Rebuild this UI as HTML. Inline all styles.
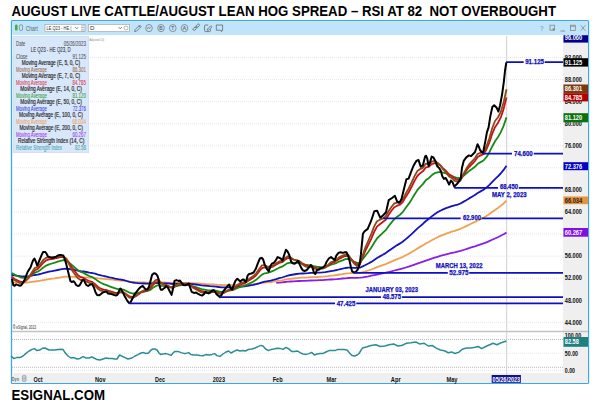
<!DOCTYPE html>
<html><head><meta charset="utf-8"><style>
html,body{margin:0;padding:0;background:#fff;width:600px;height:408px;overflow:hidden;}
svg{display:block;}
</style></head><body>
<svg width="600" height="408" viewBox="0 0 600 408">
<text x="11.5" y="15.8" font-family="Liberation Sans, sans-serif" font-size="14.6" font-weight="bold" fill="#000" text-anchor="start" textLength="544.5" lengthAdjust="spacingAndGlyphs" >AUGUST LIVE CATTLE/AUGUST LEAN HOG SPREAD – RSI AT 82&#160; NOT OVERBOUGHT</text>
<text x="11.5" y="400" font-family="Liberation Sans, sans-serif" font-size="14.4" font-weight="bold" fill="#000" text-anchor="start" textLength="93.5" lengthAdjust="spacingAndGlyphs" >ESIGNAL.COM</text>
<rect x="11.5" y="20.6" width="577" height="362.8" rx="1" fill="#fff" stroke="#3aa8f0" stroke-width="1.3"/>
<rect x="12.2" y="21.3" width="575.6" height="13.7" fill="#c0e5fa"/>
<line x1="12" y1="35.5" x2="588" y2="35.5" stroke="#fff" stroke-dasharray="2,1"/>
<rect x="563" y="36" width="25" height="337" fill="#efefef"/>
<rect x="12" y="373" width="576" height="10" fill="#efefef"/>
<line x1="12" y1="322.3" x2="563" y2="322.3" stroke="#e6e6e6" stroke-width="1" stroke-dasharray="1,1"/>
<line x1="12" y1="300.2" x2="563" y2="300.2" stroke="#e6e6e6" stroke-width="1" stroke-dasharray="1,1"/>
<line x1="12" y1="278.2" x2="563" y2="278.2" stroke="#e6e6e6" stroke-width="1" stroke-dasharray="1,1"/>
<line x1="12" y1="256.1" x2="563" y2="256.1" stroke="#e6e6e6" stroke-width="1" stroke-dasharray="1,1"/>
<line x1="12" y1="234.0" x2="563" y2="234.0" stroke="#e6e6e6" stroke-width="1" stroke-dasharray="1,1"/>
<line x1="12" y1="212.0" x2="563" y2="212.0" stroke="#e6e6e6" stroke-width="1" stroke-dasharray="1,1"/>
<line x1="12" y1="189.9" x2="563" y2="189.9" stroke="#e6e6e6" stroke-width="1" stroke-dasharray="1,1"/>
<line x1="12" y1="167.8" x2="563" y2="167.8" stroke="#e6e6e6" stroke-width="1" stroke-dasharray="1,1"/>
<line x1="12" y1="145.8" x2="563" y2="145.8" stroke="#e6e6e6" stroke-width="1" stroke-dasharray="1,1"/>
<line x1="12" y1="123.7" x2="563" y2="123.7" stroke="#e6e6e6" stroke-width="1" stroke-dasharray="1,1"/>
<line x1="12" y1="101.7" x2="563" y2="101.7" stroke="#e6e6e6" stroke-width="1" stroke-dasharray="1,1"/>
<line x1="12" y1="79.6" x2="563" y2="79.6" stroke="#e6e6e6" stroke-width="1" stroke-dasharray="1,1"/>
<line x1="12" y1="57.5" x2="563" y2="57.5" stroke="#e6e6e6" stroke-width="1" stroke-dasharray="1,1"/>
<line x1="12" y1="331.5" x2="588" y2="331.5" stroke="#c2c2c2" stroke-width="1.3"/>
<line x1="12" y1="335.9" x2="563" y2="335.9" stroke="#ececec" stroke-width="1" stroke-dasharray="1,1"/>
<line x1="12" y1="339.5" x2="563" y2="339.5" stroke="#b8b8b8" stroke-width="1" stroke-dasharray="1,1"/>
<line x1="12" y1="353.3" x2="563" y2="353.3" stroke="#e8e8e8" stroke-width="1" stroke-dasharray="1,1"/>
<line x1="12" y1="367.3" x2="563" y2="367.3" stroke="#b8b8b8" stroke-width="1" stroke-dasharray="1,1"/>
<line x1="12" y1="370.3" x2="563" y2="370.3" stroke="#e4e4e4" stroke-width="1" stroke-dasharray="1,1"/>
<line x1="506.7" y1="36" x2="506.7" y2="375" stroke="#cfcfcf" stroke-width="1"/>
<path d="M276.3,282.8 L279.2,282.6 L282.1,282.3 L285.0,282.0 L287.8,281.7 L290.7,281.5 L293.6,281.3 L296.5,281.1 L299.4,281.0 L302.2,280.9 L305.1,280.8 L308.0,280.6 L310.9,280.5 L313.7,280.4 L316.6,280.3 L319.5,280.2 L322.4,280.1 L325.3,279.9 L328.1,279.7 L331.0,279.5 L333.9,279.3 L336.8,279.1 L339.6,278.8 L342.5,278.5 L345.4,278.3 L348.3,278.0 L351.1,277.9 L354.0,277.9 L356.9,277.8 L359.8,277.7 L362.7,277.3 L365.5,276.8 L368.4,276.3 L371.3,275.7 L374.2,275.1 L377.0,274.5 L379.9,273.9 L382.8,273.3 L385.7,272.7 L388.5,272.0 L391.4,271.3 L394.3,270.5 L397.2,269.8 L400.1,269.1 L402.9,268.4 L405.8,267.5 L408.7,266.6 L411.6,265.7 L414.4,264.7 L417.3,263.6 L420.2,262.7 L423.1,261.7 L425.9,260.6 L428.8,259.7 L431.7,258.7 L434.6,257.7 L437.5,256.8 L440.3,255.9 L443.2,255.1 L446.1,254.4 L449.0,253.7 L451.8,252.9 L454.7,252.3 L457.6,251.6 L460.5,250.9 L463.3,250.0 L466.2,249.1 L469.1,248.1 L472.0,247.2 L474.9,246.3 L477.7,245.3 L480.6,244.3 L483.5,243.4 L486.4,242.3 L489.2,241.1 L492.1,239.8 L495.0,238.5 L497.9,237.2 L500.7,235.8 L503.6,234.3 L506.5,232.6" fill="none" stroke="#8a1ee6" stroke-width="1.8" stroke-linejoin="round"/>
<path d="M11.7,282.5 L14.5,282.6 L17.4,282.6 L20.3,282.7 L23.2,282.7 L26.0,282.5 L28.9,282.3 L31.8,281.9 L34.7,281.5 L37.6,281.1 L40.4,280.7 L43.3,280.1 L46.2,279.6 L49.1,279.1 L51.9,278.7 L54.8,278.3 L57.7,277.8 L60.6,277.4 L63.4,276.9 L66.3,276.7 L69.2,276.7 L72.1,276.8 L75.0,276.9 L77.8,277.1 L80.7,277.2 L83.6,277.3 L86.5,277.4 L89.3,277.6 L92.2,277.7 L95.1,278.0 L98.0,278.3 L100.8,278.6 L103.7,278.9 L106.6,279.1 L109.5,279.4 L112.4,279.7 L115.2,280.0 L118.1,280.3 L121.0,280.5 L123.9,280.8 L126.7,281.1 L129.6,281.6 L132.5,281.9 L135.4,282.1 L138.2,282.3 L141.1,282.4 L144.0,282.5 L146.9,282.6 L149.8,282.6 L152.6,282.5 L155.5,282.3 L158.4,282.2 L161.3,282.4 L164.1,282.5 L167.0,282.6 L169.9,282.7 L172.8,282.9 L175.6,282.8 L178.5,282.8 L181.4,282.8 L184.3,282.8 L187.2,282.9 L190.0,283.0 L192.9,283.1 L195.8,283.3 L198.7,283.5 L201.5,283.8 L204.4,284.0 L207.3,284.1 L210.2,284.3 L213.0,284.4 L215.9,284.6 L218.8,284.8 L221.7,285.0 L224.6,285.1 L227.4,285.1 L230.3,285.2 L233.2,285.2 L236.1,285.1 L238.9,285.0 L241.8,284.9 L244.7,284.8 L247.6,284.7 L250.4,284.4 L253.3,284.2 L256.2,283.9 L259.1,283.4 L262.0,282.9 L264.8,282.6 L267.7,282.3 L270.6,282.0 L273.5,281.6 L276.3,281.2 L279.2,280.7 L282.1,280.3 L285.0,279.7 L287.8,279.2 L290.7,278.8 L293.6,278.5 L296.5,278.2 L299.4,277.9 L302.2,277.7 L305.1,277.6 L308.0,277.4 L310.9,277.2 L313.7,277.1 L316.6,277.0 L319.5,276.8 L322.4,276.6 L325.3,276.4 L328.1,276.1 L331.0,275.7 L333.9,275.4 L336.8,275.0 L339.6,274.5 L342.5,274.1 L345.4,273.6 L348.3,273.3 L351.1,273.2 L354.0,273.2 L356.9,273.1 L359.8,272.9 L362.7,272.2 L365.5,271.4 L368.4,270.5 L371.3,269.5 L374.2,268.4 L377.0,267.2 L379.9,266.2 L382.8,265.2 L385.7,264.2 L388.5,262.9 L391.4,261.6 L394.3,260.4 L397.2,259.2 L400.1,258.0 L402.9,256.8 L405.8,255.3 L408.7,253.7 L411.6,252.1 L414.4,250.4 L417.3,248.6 L420.2,246.9 L423.1,245.3 L425.9,243.5 L428.8,242.0 L431.7,240.3 L434.6,238.7 L437.5,237.3 L440.3,235.9 L443.2,234.8 L446.1,233.7 L449.0,232.7 L451.8,231.7 L454.7,230.8 L457.6,229.8 L460.5,228.8 L463.3,227.5 L466.2,226.1 L469.1,224.7 L472.0,223.3 L474.9,221.9 L477.7,220.4 L480.6,219.0 L483.5,217.7 L486.4,216.0 L489.2,214.2 L492.1,212.1 L495.0,210.0 L497.9,208.0 L500.7,205.9 L503.6,203.5 L506.5,200.7" fill="none" stroke="#f0a04e" stroke-width="1.8" stroke-linejoin="round"/>
<path d="M11.7,275.0 L14.5,275.4 L17.4,275.8 L20.3,276.2 L23.2,276.4 L26.0,276.4 L28.9,276.2 L31.8,275.7 L34.7,275.0 L37.6,274.6 L40.4,274.0 L43.3,273.1 L46.2,272.3 L49.1,271.7 L51.9,271.2 L54.8,270.6 L57.7,270.0 L60.6,269.4 L63.4,268.9 L66.3,268.7 L69.2,269.0 L72.1,269.5 L75.0,270.0 L77.8,270.7 L80.7,271.2 L83.6,271.5 L86.5,272.0 L89.3,272.6 L92.2,273.0 L95.1,273.7 L98.0,274.6 L100.8,275.3 L103.7,276.0 L106.6,276.6 L109.5,277.3 L112.4,277.9 L115.2,278.6 L118.1,279.2 L121.0,279.6 L123.9,280.2 L126.7,281.0 L129.6,281.8 L132.5,282.5 L135.4,282.9 L138.2,283.2 L141.1,283.3 L144.0,283.5 L146.9,283.7 L149.8,283.7 L152.6,283.3 L155.5,283.0 L158.4,282.8 L161.3,283.1 L164.1,283.3 L167.0,283.4 L169.9,283.7 L172.8,284.0 L175.6,283.8 L178.5,283.7 L181.4,283.7 L184.3,283.7 L187.2,283.7 L190.0,283.9 L192.9,284.2 L195.8,284.5 L198.7,284.9 L201.5,285.3 L204.4,285.6 L207.3,285.9 L210.2,286.2 L213.0,286.3 L215.9,286.6 L218.8,287.0 L221.7,287.3 L224.6,287.4 L227.4,287.3 L230.3,287.3 L233.2,287.3 L236.1,287.0 L238.9,286.8 L241.8,286.5 L244.7,286.3 L247.6,285.9 L250.4,285.4 L253.3,284.9 L256.2,284.2 L259.1,283.3 L262.0,282.3 L264.8,281.6 L267.7,281.2 L270.6,280.6 L273.5,279.9 L276.3,279.1 L279.2,278.2 L282.1,277.5 L285.0,276.5 L287.8,275.6 L290.7,275.0 L293.6,274.5 L296.5,274.0 L299.4,273.6 L302.2,273.5 L305.1,273.4 L308.0,273.2 L310.9,272.9 L313.7,272.8 L316.6,272.7 L319.5,272.6 L322.4,272.4 L325.3,272.1 L328.1,271.6 L331.0,271.1 L333.9,270.6 L336.8,270.0 L339.6,269.3 L342.5,268.7 L345.4,268.0 L348.3,267.6 L351.1,267.6 L354.0,267.8 L356.9,267.9 L359.8,267.7 L362.7,266.4 L365.5,265.0 L368.4,263.5 L371.3,261.9 L374.2,259.9 L377.0,258.0 L379.9,256.4 L382.8,254.8 L385.7,253.1 L388.5,251.1 L391.4,249.0 L394.3,246.9 L397.2,245.1 L400.1,243.4 L402.9,241.5 L405.8,239.1 L408.7,236.7 L411.6,234.1 L414.4,231.4 L417.3,228.6 L420.2,226.1 L423.1,223.7 L425.9,221.0 L428.8,218.9 L431.7,216.4 L434.6,214.2 L437.5,212.3 L440.3,210.7 L443.2,209.4 L446.1,208.2 L449.0,207.2 L451.8,206.2 L454.7,205.4 L457.6,204.6 L460.5,203.5 L463.3,201.9 L466.2,200.2 L469.1,198.4 L472.0,196.7 L474.9,195.0 L477.7,193.0 L480.6,191.4 L483.5,189.8 L486.4,187.6 L489.2,185.1 L492.1,182.1 L495.0,179.1 L497.9,176.4 L500.7,173.5 L503.6,169.9 L506.5,165.7" fill="none" stroke="#1414bc" stroke-width="1.8" stroke-linejoin="round"/>
<path d="M11.7,272.9 L14.5,274.6 L17.4,276.0 L20.3,277.3 L23.2,277.9 L26.0,277.7 L28.9,276.7 L31.8,274.9 L34.7,272.8 L37.6,271.7 L40.4,269.9 L43.3,267.5 L46.2,265.6 L49.1,264.4 L51.9,263.5 L54.8,262.7 L57.7,261.7 L60.6,260.8 L63.4,260.2 L66.3,260.8 L69.2,262.8 L72.1,265.3 L75.0,267.7 L77.8,270.1 L80.7,271.9 L83.6,272.9 L86.5,274.6 L89.3,276.0 L92.2,277.1 L95.1,278.9 L98.0,281.1 L100.8,282.8 L103.7,284.1 L106.6,285.1 L109.5,286.3 L112.4,287.3 L115.2,288.4 L118.1,289.1 L121.0,289.1 L123.9,289.8 L126.7,291.2 L129.6,292.7 L132.5,293.5 L135.4,293.5 L138.2,292.9 L141.1,292.1 L144.0,291.5 L146.9,291.2 L149.8,290.2 L152.6,288.1 L155.5,286.2 L158.4,285.2 L161.3,285.8 L164.1,286.1 L167.0,286.2 L169.9,286.9 L172.8,287.3 L175.6,286.4 L178.5,285.6 L181.4,285.2 L184.3,285.2 L187.2,285.1 L190.0,285.4 L192.9,286.3 L195.8,287.2 L198.7,288.1 L201.5,289.1 L204.4,289.6 L207.3,290.1 L210.2,290.4 L213.0,290.4 L215.9,290.7 L218.8,291.4 L221.7,291.9 L224.6,291.6 L227.4,290.9 L230.3,290.4 L233.2,289.9 L236.1,288.6 L238.9,287.5 L241.8,286.5 L244.7,285.7 L247.6,284.4 L250.4,283.0 L253.3,281.6 L256.2,279.8 L259.1,277.2 L262.0,274.6 L264.8,273.3 L267.7,272.9 L270.6,271.9 L273.5,270.7 L276.3,269.2 L279.2,267.7 L282.1,266.7 L285.0,264.8 L287.8,263.1 L290.7,262.7 L293.6,262.8 L296.5,262.7 L299.4,262.9 L302.2,263.8 L305.1,264.7 L308.0,265.2 L310.9,265.2 L313.7,266.1 L316.6,266.7 L319.5,267.0 L322.4,267.1 L325.3,266.8 L328.1,265.9 L331.0,264.7 L333.9,264.0 L336.8,262.8 L339.6,261.4 L342.5,260.3 L345.4,259.2 L348.3,258.8 L351.1,260.0 L354.0,261.7 L356.9,262.8 L359.8,262.8 L362.7,259.3 L365.5,255.5 L368.4,251.7 L371.3,247.5 L374.2,242.7 L377.0,238.5 L379.9,235.6 L382.8,232.9 L385.7,230.2 L388.5,226.3 L391.4,222.6 L394.3,219.1 L397.2,216.7 L400.1,214.7 L402.9,211.8 L405.8,207.8 L408.7,203.9 L411.6,199.4 L414.4,194.7 L417.3,190.2 L420.2,186.8 L423.1,183.9 L425.9,180.1 L428.8,178.2 L431.7,175.3 L434.6,173.2 L437.5,172.3 L440.3,172.0 L443.2,172.7 L446.1,173.5 L449.0,175.0 L451.8,175.8 L454.7,177.2 L457.6,178.0 L460.5,178.1 L463.3,176.0 L466.2,173.5 L469.1,171.1 L472.0,169.0 L474.9,166.8 L477.7,163.8 L480.6,162.1 L483.5,160.5 L486.4,157.2 L489.2,152.7 L492.1,146.7 L495.0,141.3 L497.9,137.2 L500.7,132.4 L503.6,125.9 L506.5,117.4" fill="none" stroke="#168c16" stroke-width="1.8" stroke-linejoin="round"/>
<path d="M11.7,276.7 L14.5,279.0 L17.4,280.4 L20.3,281.7 L23.2,281.9 L26.0,280.4 L28.9,277.8 L31.8,274.3 L34.7,270.5 L37.6,269.0 L40.4,266.2 L43.3,262.7 L46.2,260.3 L49.1,259.4 L51.9,259.0 L54.8,258.5 L57.7,257.8 L60.6,257.1 L63.4,256.8 L66.3,258.7 L69.2,263.1 L72.1,267.8 L75.0,271.5 L77.8,275.1 L80.7,277.2 L83.6,277.9 L86.5,279.7 L89.3,281.0 L92.2,281.9 L95.1,284.1 L98.0,286.9 L100.8,288.7 L103.7,289.6 L106.6,290.1 L109.5,291.0 L112.4,291.9 L115.2,292.8 L118.1,292.9 L121.0,292.0 L123.9,292.6 L126.7,294.4 L129.6,296.5 L132.5,297.0 L135.4,296.1 L138.2,294.5 L141.1,292.5 L144.0,291.3 L146.9,290.8 L149.8,289.0 L152.6,285.4 L155.5,282.5 L158.4,281.5 L161.3,283.6 L164.1,284.7 L167.0,285.3 L169.9,286.8 L172.8,287.5 L175.6,285.8 L178.5,284.5 L181.4,284.1 L184.3,284.3 L187.2,284.4 L190.0,285.1 L192.9,286.9 L195.8,288.3 L198.7,289.8 L201.5,291.2 L204.4,291.7 L207.3,292.1 L210.2,292.1 L213.0,291.7 L215.9,292.0 L218.8,293.0 L221.7,293.4 L224.6,292.5 L227.4,290.9 L230.3,290.1 L233.2,289.2 L236.1,286.9 L238.9,285.3 L241.8,284.0 L244.7,283.2 L247.6,281.3 L250.4,279.4 L253.3,277.7 L256.2,275.2 L259.1,271.5 L262.0,268.2 L264.8,267.3 L267.7,268.0 L270.6,267.5 L273.5,266.3 L276.3,264.6 L279.2,262.9 L282.1,262.2 L285.0,259.8 L287.8,257.9 L290.7,258.4 L293.6,259.7 L296.5,260.3 L299.4,261.2 L302.2,263.3 L305.1,265.1 L308.0,266.0 L310.9,265.8 L313.7,267.3 L316.6,268.2 L319.5,268.4 L322.4,268.2 L325.3,267.4 L328.1,265.5 L331.0,263.4 L333.9,262.4 L336.8,260.6 L339.6,258.6 L342.5,257.1 L345.4,255.9 L348.3,256.0 L351.1,258.9 L354.0,262.3 L356.9,264.4 L359.8,264.0 L362.7,257.1 L365.5,250.5 L368.4,244.7 L371.3,238.6 L374.2,231.8 L377.0,226.6 L379.9,224.2 L382.8,222.0 L385.7,219.7 L388.5,215.0 L391.4,210.8 L394.3,207.2 L397.2,205.7 L400.1,204.7 L402.9,201.8 L405.8,196.8 L408.7,192.2 L411.6,186.8 L414.4,181.1 L417.3,176.0 L420.2,173.2 L423.1,171.1 L425.9,167.3 L428.8,166.8 L431.7,164.2 L434.6,163.1 L437.5,163.9 L440.3,165.4 L443.2,168.5 L446.1,171.0 L449.0,174.3 L451.8,176.1 L454.7,178.7 L457.6,179.8 L460.5,179.5 L463.3,175.2 L466.2,170.8 L469.1,167.0 L472.0,164.0 L474.9,161.1 L477.7,157.0 L480.6,155.4 L483.5,154.2 L486.4,149.5 L489.2,142.9 L492.1,134.2 L495.0,127.2 L497.9,123.0 L500.7,117.7 L503.6,109.1 L506.5,97.4" fill="none" stroke="#c81414" stroke-width="1.8" stroke-linejoin="round"/>
<path d="M11.7,277.6 L14.5,280.3 L17.4,281.8 L20.3,283.1 L23.2,282.8 L26.0,280.6 L28.9,277.0 L31.8,272.6 L34.7,268.1 L37.6,266.9 L40.4,263.9 L43.3,259.9 L46.2,257.7 L49.1,257.4 L51.9,257.5 L54.8,257.4 L57.7,256.7 L60.6,256.2 L63.4,256.2 L66.3,258.9 L69.2,264.6 L72.1,270.4 L75.0,274.5 L77.8,278.3 L80.7,280.0 L83.6,280.0 L86.5,281.7 L89.3,282.8 L92.2,283.3 L95.1,285.9 L98.0,289.0 L100.8,290.7 L103.7,291.2 L106.6,291.4 L109.5,292.2 L112.4,292.9 L115.2,293.7 L118.1,293.5 L121.0,292.1 L123.9,292.9 L126.7,295.2 L129.6,297.7 L132.5,298.0 L135.4,296.5 L138.2,294.2 L141.1,291.7 L144.0,290.3 L146.9,290.0 L149.8,287.9 L152.6,283.4 L155.5,280.2 L158.4,279.7 L161.3,283.0 L164.1,284.8 L167.0,285.5 L169.9,287.5 L172.8,288.2 L175.6,285.6 L178.5,284.0 L181.4,283.6 L184.3,284.1 L187.2,284.2 L190.0,285.2 L192.9,287.6 L195.8,289.3 L198.7,290.9 L201.5,292.4 L204.4,292.7 L207.3,292.8 L210.2,292.7 L213.0,291.9 L215.9,292.2 L218.8,293.5 L221.7,293.9 L224.6,292.5 L227.4,290.4 L230.3,289.4 L233.2,288.5 L236.1,285.7 L238.9,283.9 L241.8,282.6 L244.7,282.0 L247.6,279.9 L250.4,277.9 L253.3,276.1 L256.2,273.3 L259.1,269.0 L262.0,265.4 L264.8,265.2 L267.7,266.8 L270.6,266.5 L273.5,265.3 L276.3,263.3 L279.2,261.5 L282.1,261.0 L285.0,258.2 L287.8,256.2 L290.7,257.5 L293.6,259.5 L296.5,260.4 L299.4,261.5 L302.2,264.2 L305.1,266.4 L308.0,267.1 L310.9,266.5 L313.7,268.3 L316.6,269.1 L319.5,269.1 L322.4,268.6 L325.3,267.4 L328.1,264.8 L331.0,262.2 L333.9,261.3 L336.8,259.3 L339.6,257.0 L342.5,255.6 L345.4,254.5 L348.3,255.0 L351.1,259.3 L354.0,263.6 L356.9,266.0 L359.8,264.9 L362.7,255.4 L365.5,247.1 L368.4,240.5 L371.3,233.8 L374.2,226.4 L377.0,221.2 L379.9,219.8 L382.8,218.4 L385.7,216.5 L388.5,211.3 L391.4,207.0 L394.3,203.4 L397.2,202.7 L400.1,202.3 L402.9,199.3 L405.8,193.4 L408.7,188.4 L411.6,182.5 L414.4,176.4 L417.3,171.1 L420.2,169.1 L423.1,167.6 L425.9,163.6 L428.8,164.2 L431.7,161.7 L434.6,160.9 L437.5,162.7 L440.3,165.2 L443.2,169.4 L446.1,172.5 L449.0,176.4 L451.8,178.1 L454.7,180.8 L457.6,181.6 L460.5,180.6 L463.3,174.5 L466.2,168.8 L469.1,164.4 L472.0,161.3 L474.9,158.3 L477.7,153.8 L480.6,152.8 L483.5,152.0 L486.4,146.5 L489.2,138.7 L492.1,128.5 L495.0,121.0 L497.9,117.5 L500.7,112.2 L503.6,102.6 L506.5,89.2" fill="none" stroke="#8b4a1c" stroke-width="1.8" stroke-linejoin="round"/>
<path d="M12.0,278.9 L12.6,282.3 L13.4,285.3 L14.7,285.7 L16.0,284.4 L17.3,284.9 L18.6,285.3 L19.9,285.7 L21.1,285.3 L22.4,283.6 L23.7,281.4 L25.0,278.9 L26.3,275.4 L27.6,272.0 L28.9,269.9 L30.6,267.3 L31.9,263.4 L33.1,260.4 L34.4,258.5 L35.8,261.5 L37.1,265.4 L38.3,263.2 L40.0,258.9 L41.8,254.6 L43.1,252.0 L45.2,252.0 L46.4,253.4 L47.8,256.3 L49.8,257.2 L52.1,257.7 L54.3,257.2 L56.0,256.8 L57.7,255.5 L59.8,255.1 L61.5,255.1 L63.2,255.5 L64.6,258.9 L65.8,262.3 L67.5,269.2 L69.2,276.0 L70.4,280.9 L71.8,282.1 L73.5,281.2 L74.9,282.6 L76.1,285.0 L77.8,286.0 L79.5,285.5 L81.2,282.6 L82.4,280.3 L83.8,279.8 L85.2,282.9 L86.4,285.0 L88.1,286.0 L90.2,284.6 L92.1,284.1 L93.9,287.5 L95.4,291.9 L97.1,294.9 L99.0,295.3 L100.9,294.1 L102.7,292.6 L104.9,291.9 L106.4,291.5 L107.9,293.4 L109.8,293.8 L111.5,294.1 L113.7,294.9 L115.9,295.6 L117.4,294.9 L118.9,291.2 L120.4,288.5 L121.8,290.4 L123.3,293.4 L125.1,297.1 L127.0,300.3 L128.9,302.9 L130.6,302.2 L132.1,299.3 L134.3,294.9 L136.5,291.9 L138.7,289.0 L140.9,286.8 L142.7,286.0 L144.6,288.2 L146.1,289.7 L147.6,289.0 L149.0,286.8 L150.5,280.9 L152.0,275.0 L153.9,273.2 L155.9,273.8 L157.4,275.7 L158.6,279.4 L159.8,286.8 L160.8,289.7 L162.3,289.7 L163.7,288.5 L165.2,287.5 L166.0,286.0 L167.8,287.5 L169.7,291.2 L171.6,294.9 L173.1,288.2 L174.5,280.9 L176.3,280.1 L178.5,280.9 L180.0,280.6 L181.4,282.6 L183.4,285.0 L185.1,285.3 L186.9,284.6 L188.8,283.5 L190.3,288.0 L191.7,291.9 L193.9,292.9 L196.1,292.6 L198.1,293.8 L200.1,294.9 L202.0,295.6 L203.9,294.1 L205.4,291.9 L206.9,292.9 L208.6,293.4 L210.1,292.4 L211.6,291.2 L213.4,290.0 L215.3,291.9 L216.7,294.4 L218.6,295.9 L220.1,297.1 L221.6,294.9 L223.4,291.2 L225.6,288.5 L227.5,286.0 L229.2,284.6 L230.7,288.5 L232.2,289.7 L233.6,285.3 L235.4,280.9 L237.3,278.7 L238.8,280.1 L240.3,281.6 L241.7,280.1 L243.2,279.4 L244.0,279.9 L245.8,282.1 L247.7,275.4 L249.1,274.0 L251.4,273.5 L253.6,272.5 L255.8,268.8 L258.0,262.9 L259.9,258.5 L261.6,257.8 L263.1,259.3 L264.6,264.4 L266.8,268.8 L268.7,271.5 L270.5,265.9 L271.9,263.7 L274.1,262.6 L275.6,260.7 L277.5,257.1 L279.3,257.8 L280.8,258.5 L282.5,260.7 L284.0,255.6 L285.9,249.7 L287.4,251.2 L288.9,254.1 L289.9,257.1 L291.1,261.5 L292.5,263.2 L294.7,263.7 L296.6,262.2 L298.1,260.7 L299.6,264.4 L301.4,268.1 L302.8,270.3 L304.6,271.0 L306.5,270.3 L308.4,268.1 L310.9,265.1 L312.4,267.4 L313.9,272.5 L315.3,274.0 L316.8,270.3 L319.0,269.6 L320.0,268.4 L322.9,267.6 L325.1,265.4 L326.6,261.8 L328.8,258.5 L331.0,257.1 L333.2,258.8 L334.7,260.3 L336.2,255.9 L338.4,252.9 L340.6,252.2 L342.8,252.9 L345.0,252.2 L346.5,252.2 L348.2,255.9 L349.4,260.3 L350.9,266.9 L352.1,271.3 L353.8,272.4 L355.6,272.1 L357.5,269.9 L359.0,266.2 L360.0,261.8 L360.9,254.4 L361.9,244.1 L362.9,233.8 L364.4,231.5 L367.7,228.9 L371.0,221.2 L374.3,211.2 L377.2,210.8 L380.3,217.8 L383.2,215.2 L386.0,212.3 L388.7,200.2 L392.0,198.0 L394.9,195.8 L397.1,201.3 L399.3,202.8 L401.5,199.1 L404.2,188.0 L406.4,179.2 L408.6,178.6 L410.8,172.6 L413.4,166.0 L416.3,160.9 L418.5,160.0 L420.7,166.6 L422.9,165.3 L425.1,156.5 L426.0,155.7 L427.2,158.3 L428.6,166.0 L429.9,162.6 L431.7,156.6 L433.4,157.4 L435.4,160.9 L437.1,166.0 L439.2,168.1 L440.9,171.1 L442.3,176.3 L444.0,178.9 L445.7,178.0 L447.4,181.1 L449.1,184.5 L450.9,180.6 L452.6,182.3 L454.3,186.6 L456.9,184.0 L459.1,181.4 L460.8,178.0 L462.0,167.7 L463.7,160.9 L466.3,157.4 L468.9,155.4 L471.1,156.1 L473.1,154.0 L474.9,152.3 L476.2,148.5 L477.5,144.3 L478.7,146.3 L480.0,150.0 L482.0,152.3 L483.0,153.0 L484.0,148.0 L485.4,140.9 L486.9,132.3 L488.6,127.4 L490.3,116.4 L492.3,107.1 L494.2,105.3 L496.7,107.8 L498.4,111.5 L500.1,105.3 L502.1,94.3 L503.8,82.1 L505.0,71.0 L506.3,62.4" fill="none" stroke="#000" stroke-width="2" stroke-linejoin="round"/>
<path d="M506,62.2 H523.7 M544.7,62.2 H563" stroke="#1010c0" stroke-width="1.7" fill="none"/>
<text x="525.2" y="64.1" font-family="Liberation Sans, sans-serif" font-size="6.7" font-weight="bold" fill="#1010c0" text-anchor="start" textLength="18.8" lengthAdjust="spacingAndGlyphs" stroke="#1010c0" stroke-width="0.25">91.125</text>
<path d="M482.7,153.6 H512.0 M533.7,153.6 H563" stroke="#1010c0" stroke-width="1.7" fill="none"/>
<text x="514.0" y="155.5" font-family="Liberation Sans, sans-serif" font-size="6.7" font-weight="bold" fill="#1010c0" text-anchor="start" textLength="18.7" lengthAdjust="spacingAndGlyphs" stroke="#1010c0" stroke-width="0.25">74.600</text>
<path d="M454.3,187.9 H498.0 M518.8,187.9 H563" stroke="#1010c0" stroke-width="1.7" fill="none"/>
<text x="499.9" y="189.3" font-family="Liberation Sans, sans-serif" font-size="6.7" font-weight="bold" fill="#1010c0" text-anchor="start" textLength="18.1" lengthAdjust="spacingAndGlyphs" stroke="#1010c0" stroke-width="0.25">68.450</text>
<path d="M383.2,218.3 H460.7 M481.7,218.3 H563" stroke="#1010c0" stroke-width="1.7" fill="none"/>
<text x="462.9" y="220.1" font-family="Liberation Sans, sans-serif" font-size="6.7" font-weight="bold" fill="#1010c0" text-anchor="start" textLength="18.1" lengthAdjust="spacingAndGlyphs" stroke="#1010c0" stroke-width="0.25">62.900</text>
<path d="M353.8,272.8 H447.8 M469.2,272.8 H563" stroke="#1010c0" stroke-width="1.7" fill="none"/>
<text x="449.2" y="274.5" font-family="Liberation Sans, sans-serif" font-size="6.7" font-weight="bold" fill="#1010c0" text-anchor="start" textLength="19.3" lengthAdjust="spacingAndGlyphs" stroke="#1010c0" stroke-width="0.25">52.975</text>
<path d="M220.1,297.2 H381.0 M402.0,297.2 H563" stroke="#1010c0" stroke-width="1.7" fill="none"/>
<text x="382.8" y="298.9" font-family="Liberation Sans, sans-serif" font-size="6.7" font-weight="bold" fill="#1010c0" text-anchor="start" textLength="18.2" lengthAdjust="spacingAndGlyphs" stroke="#1010c0" stroke-width="0.25">48.575</text>
<path d="M129.0,303.4 H335.0 M356.3,303.4 H563" stroke="#1010c0" stroke-width="1.7" fill="none"/>
<text x="336.7" y="305.5" font-family="Liberation Sans, sans-serif" font-size="6.7" font-weight="bold" fill="#1010c0" text-anchor="start" textLength="18.6" lengthAdjust="spacingAndGlyphs" stroke="#1010c0" stroke-width="0.25">47.425</text>
<text x="492.0" y="196.7" font-family="Liberation Sans, sans-serif" font-size="6.7" font-weight="bold" fill="#1010c0" text-anchor="start" textLength="34.7" lengthAdjust="spacingAndGlyphs" stroke="#1010c0" stroke-width="0.25">MAY 2, 2023</text>
<text x="435.8" y="268.3" font-family="Liberation Sans, sans-serif" font-size="6.7" font-weight="bold" fill="#1010c0" text-anchor="start" textLength="46.7" lengthAdjust="spacingAndGlyphs" stroke="#1010c0" stroke-width="0.25">MARCH 13, 2022</text>
<text x="365.5" y="292.2" font-family="Liberation Sans, sans-serif" font-size="6.7" font-weight="bold" fill="#1010c0" text-anchor="start" textLength="52.5" lengthAdjust="spacingAndGlyphs" stroke="#1010c0" stroke-width="0.25">JANUARY 03, 2023</text>
<path d="M11.0,356.0 L14.0,358.6 L17.0,357.4 L20.0,357.6 L23.0,356.0 L26.0,353.4 L29.0,351.0 L32.0,349.4 L34.4,348.6 L37.0,350.6 L40.0,350.0 L42.6,348.2 L45.0,348.0 L47.0,349.0 L49.0,350.0 L52.0,350.0 L55.0,350.0 L58.0,349.4 L61.0,349.2 L63.0,349.4 L65.0,352.6 L68.0,356.0 L71.0,358.0 L74.0,357.6 L77.0,359.0 L80.0,358.4 L83.0,356.6 L86.0,358.0 L89.0,358.0 L91.6,357.0 L94.0,358.0 L97.0,359.6 L100.0,360.0 L103.0,359.0 L106.0,358.0 L109.0,358.4 L112.0,358.6 L115.0,359.0 L117.0,359.0 L119.6,355.0 L122.0,356.2 L125.0,357.6 L128.0,359.0 L132.0,358.0 L135.0,356.0 L138.0,354.6 L141.0,353.0 L144.0,352.6 L146.0,353.6 L148.6,353.0 L151.0,350.0 L153.0,349.0 L155.0,349.0 L157.0,350.0 L159.0,353.0 L160.6,354.4 L163.0,354.0 L166.0,353.6 L168.6,354.4 L171.0,355.4 L173.0,353.0 L175.0,351.4 L178.0,351.4 L181.0,352.6 L184.0,353.4 L186.0,353.4 L188.6,352.6 L191.0,354.6 L194.0,355.0 L197.0,355.0 L200.0,355.6 L203.0,355.8 L206.0,354.6 L209.0,355.0 L212.0,354.4 L214.6,353.6 L217.0,355.6 L220.0,356.4 L223.0,354.0 L226.0,352.0 L228.6,351.0 L231.0,353.0 L234.0,351.4 L237.0,350.0 L240.0,351.0 L243.0,350.4 L245.6,351.0 L248.4,349.4 L252.0,349.0 L255.0,348.0 L258.0,346.6 L261.0,345.4 L263.0,346.0 L265.6,349.0 L268.4,350.6 L271.0,349.4 L274.0,349.0 L277.0,348.2 L280.0,348.4 L283.0,349.4 L286.0,347.4 L289.0,349.0 L291.6,351.4 L294.4,351.6 L297.6,351.0 L300.0,352.6 L303.0,354.0 L306.0,354.4 L309.0,353.6 L311.6,352.4 L314.4,355.0 L317.0,354.0 L320.0,353.6 L323.0,353.4 L326.0,352.0 L329.0,350.6 L332.0,350.4 L335.0,350.6 L338.0,349.4 L341.0,349.4 L344.0,349.4 L347.0,350.0 L349.6,353.0 L352.0,355.6 L355.0,356.0 L358.0,354.4 L359.0,353.5 L362.5,347.9 L367.0,346.8 L371.0,345.5 L375.8,344.7 L380.3,346.5 L384.9,346.0 L389.1,344.7 L393.7,343.9 L397.7,346.0 L401.7,345.5 L406.2,343.3 L411.0,342.8 L415.8,342.0 L419.5,343.9 L424.3,343.3 L428.3,346.0 L432.3,345.5 L436.3,348.1 L440.3,350.0 L444.3,350.8 L448.3,352.7 L451.5,351.9 L455.0,353.5 L459.0,352.1 L462.2,349.2 L466.5,348.1 L471.0,348.1 L475.0,347.3 L478.2,346.5 L481.7,348.7 L485.7,346.5 L489.7,344.7 L493.1,343.3 L496.9,344.7 L501.1,342.8 L505.7,341.2 L506.5,341.5" fill="none" stroke="#2a8e94" stroke-width="1.5" stroke-linejoin="round"/>
<text x="564.8" y="59.8" font-family="Liberation Sans, sans-serif" font-size="6.4" font-weight="bold" fill="#111" text-anchor="start" textLength="17.2" lengthAdjust="spacingAndGlyphs" >92.000</text>
<text x="564.8" y="81.9" font-family="Liberation Sans, sans-serif" font-size="6.4" font-weight="bold" fill="#111" text-anchor="start" textLength="17.2" lengthAdjust="spacingAndGlyphs" >88.000</text>
<text x="564.8" y="103.9" font-family="Liberation Sans, sans-serif" font-size="6.4" font-weight="bold" fill="#111" text-anchor="start" textLength="17.2" lengthAdjust="spacingAndGlyphs" >84.000</text>
<text x="564.8" y="126.0" font-family="Liberation Sans, sans-serif" font-size="6.4" font-weight="bold" fill="#111" text-anchor="start" textLength="17.2" lengthAdjust="spacingAndGlyphs" >80.000</text>
<text x="564.8" y="148.0" font-family="Liberation Sans, sans-serif" font-size="6.4" font-weight="bold" fill="#111" text-anchor="start" textLength="17.2" lengthAdjust="spacingAndGlyphs" >76.000</text>
<text x="564.8" y="192.2" font-family="Liberation Sans, sans-serif" font-size="6.4" font-weight="bold" fill="#111" text-anchor="start" textLength="17.2" lengthAdjust="spacingAndGlyphs" >68.000</text>
<text x="564.8" y="214.3" font-family="Liberation Sans, sans-serif" font-size="6.4" font-weight="bold" fill="#111" text-anchor="start" textLength="17.2" lengthAdjust="spacingAndGlyphs" >64.000</text>
<text x="564.8" y="258.4" font-family="Liberation Sans, sans-serif" font-size="6.4" font-weight="bold" fill="#111" text-anchor="start" textLength="17.2" lengthAdjust="spacingAndGlyphs" >56.000</text>
<text x="564.8" y="280.4" font-family="Liberation Sans, sans-serif" font-size="6.4" font-weight="bold" fill="#111" text-anchor="start" textLength="17.2" lengthAdjust="spacingAndGlyphs" >52.000</text>
<text x="564.8" y="302.5" font-family="Liberation Sans, sans-serif" font-size="6.4" font-weight="bold" fill="#111" text-anchor="start" textLength="17.2" lengthAdjust="spacingAndGlyphs" >48.000</text>
<text x="564.8" y="324.9" font-family="Liberation Sans, sans-serif" font-size="6.4" font-weight="bold" fill="#111" text-anchor="start" textLength="17.2" lengthAdjust="spacingAndGlyphs" >44.000</text>
<text x="564.8" y="337.9" font-family="Liberation Sans, sans-serif" font-size="6.4" font-weight="bold" fill="#111" text-anchor="start" textLength="16.5" lengthAdjust="spacingAndGlyphs" >100.00</text>
<text x="564.8" y="355.9" font-family="Liberation Sans, sans-serif" font-size="6.4" font-weight="bold" fill="#111" text-anchor="start" textLength="13.2" lengthAdjust="spacingAndGlyphs" >50.00</text>
<text x="564.8" y="372.7" font-family="Liberation Sans, sans-serif" font-size="6.4" font-weight="bold" fill="#111" text-anchor="start" textLength="10.2" lengthAdjust="spacingAndGlyphs" >0.00</text>
<rect x="563.5" y="35.2" width="24.5" height="7.4" fill="#00008c"/>
<text x="564.8" y="40.2" font-family="Liberation Sans, sans-serif" font-size="6.4" font-weight="bold" fill="#fff" text-anchor="start" textLength="17.4" lengthAdjust="spacingAndGlyphs" >96.060</text>
<rect x="563.5" y="58.2" width="24.5" height="8.4" fill="#000"/>
<text x="564.8" y="64.7" font-family="Liberation Sans, sans-serif" font-size="6.4" font-weight="bold" fill="#fff" text-anchor="start" textLength="17.4" lengthAdjust="spacingAndGlyphs" >91.125</text>
<rect x="563.5" y="84.5" width="24.5" height="8.7" fill="#7a3a10"/>
<text x="564.8" y="91.1" font-family="Liberation Sans, sans-serif" font-size="6.4" font-weight="bold" fill="#fff" text-anchor="start" textLength="17.4" lengthAdjust="spacingAndGlyphs" >86.301</text>
<rect x="563.5" y="93.2" width="24.5" height="8.2" fill="#b40000"/>
<text x="564.8" y="99.6" font-family="Liberation Sans, sans-serif" font-size="6.4" font-weight="bold" fill="#fff" text-anchor="start" textLength="17.4" lengthAdjust="spacingAndGlyphs" >84.785</text>
<rect x="563.5" y="113.2" width="24.5" height="9.1" fill="#0b720b"/>
<text x="564.8" y="120.0" font-family="Liberation Sans, sans-serif" font-size="6.4" font-weight="bold" fill="#fff" text-anchor="start" textLength="17.4" lengthAdjust="spacingAndGlyphs" >81.120</text>
<rect x="563.5" y="162.2" width="24.5" height="8.0" fill="#0000c8"/>
<text x="564.8" y="168.5" font-family="Liberation Sans, sans-serif" font-size="6.4" font-weight="bold" fill="#fff" text-anchor="start" textLength="17.4" lengthAdjust="spacingAndGlyphs" >72.376</text>
<rect x="563.5" y="196.5" width="24.5" height="7.7" fill="#e8923c"/>
<text x="564.8" y="202.7" font-family="Liberation Sans, sans-serif" font-size="6.4" font-weight="bold" fill="#222" text-anchor="start" textLength="17.4" lengthAdjust="spacingAndGlyphs" >66.034</text>
<rect x="563.5" y="228" width="24.5" height="8.7" fill="#8010e0"/>
<text x="564.8" y="234.7" font-family="Liberation Sans, sans-serif" font-size="6.4" font-weight="bold" fill="#fff" text-anchor="start" textLength="17.4" lengthAdjust="spacingAndGlyphs" >60.267</text>
<rect x="563.5" y="337" width="24.5" height="9.8" fill="#1f8080"/>
<text x="564.8" y="344.2" font-family="Liberation Sans, sans-serif" font-size="6.4" font-weight="bold" fill="#fff" text-anchor="start" textLength="14" lengthAdjust="spacingAndGlyphs" >82.58</text>
<text x="33.5" y="381.8" font-family="Liberation Sans, sans-serif" font-size="8" font-weight="bold" fill="#111" text-anchor="start" textLength="9.1" lengthAdjust="spacingAndGlyphs" >Oct</text>
<text x="95" y="381.8" font-family="Liberation Sans, sans-serif" font-size="8" font-weight="bold" fill="#111" text-anchor="start" textLength="10.6" lengthAdjust="spacingAndGlyphs" >Nov</text>
<text x="155" y="381.8" font-family="Liberation Sans, sans-serif" font-size="8" font-weight="bold" fill="#111" text-anchor="start" textLength="10" lengthAdjust="spacingAndGlyphs" >Dec</text>
<text x="212.7" y="381.8" font-family="Liberation Sans, sans-serif" font-size="8" font-weight="bold" fill="#111" text-anchor="start" textLength="12.3" lengthAdjust="spacingAndGlyphs" >2023</text>
<text x="272.7" y="381.8" font-family="Liberation Sans, sans-serif" font-size="8" font-weight="bold" fill="#111" text-anchor="start" textLength="10.0" lengthAdjust="spacingAndGlyphs" >Feb</text>
<text x="326.6" y="381.8" font-family="Liberation Sans, sans-serif" font-size="8" font-weight="bold" fill="#111" text-anchor="start" textLength="9.9" lengthAdjust="spacingAndGlyphs" >Mar</text>
<text x="390.8" y="381.8" font-family="Liberation Sans, sans-serif" font-size="8" font-weight="bold" fill="#111" text-anchor="start" textLength="9.9" lengthAdjust="spacingAndGlyphs" >Apr</text>
<text x="446.5" y="381.8" font-family="Liberation Sans, sans-serif" font-size="8" font-weight="bold" fill="#111" text-anchor="start" textLength="11.0" lengthAdjust="spacingAndGlyphs" >May</text>
<rect x="491.7" y="375" width="29.2" height="7.8" fill="#10108e"/>
<text x="492.6" y="381.9" font-family="Liberation Sans, sans-serif" font-size="6.8" font-weight="bold" fill="#fff" text-anchor="start" textLength="27.6" lengthAdjust="spacingAndGlyphs" >05/26/2023</text>
<text x="11.8" y="381.3" font-family="Liberation Sans, sans-serif" font-size="6.2" font-weight="bold" fill="#6a6a6a" text-anchor="start" textLength="7.2" lengthAdjust="spacingAndGlyphs" >Dyn</text>
<rect x="22.4" y="375.4" width="3.6" height="6" rx="1.2" fill="#c8cdd8" stroke="#8a90a0" stroke-width="0.7"/>
<line x1="23.2" y1="378.2" x2="25.2" y2="378.2" stroke="#8a90a0" stroke-width="0.5"/>
<text x="13" y="329.3" font-family="Liberation Sans, sans-serif" font-size="4.6" font-weight="normal" fill="#5a5a5a" text-anchor="start" textLength="23" lengthAdjust="spacingAndGlyphs" stroke="#5a5a5a" stroke-width="0.1">© eSignal, 2023</text>
<text x="89.2" y="41.2" font-family="Liberation Sans, sans-serif" font-size="4.2" font-weight="normal" fill="#8a8a8a" text-anchor="start" textLength="15" lengthAdjust="spacingAndGlyphs" >Adjusted 10)</text>
<rect x="13.2" y="36.2" width="75.6" height="116.49999999999999" fill="#d8e7f9" stroke="#c6d8ee" stroke-width="0.6"/>
<text x="16" y="45.5" font-family="Liberation Sans, sans-serif" font-size="6.5" font-weight="normal" fill="#555" text-anchor="start" textLength="9.3" lengthAdjust="spacingAndGlyphs" stroke="#555" stroke-width="0.08">Date</text>
<text x="63.75" y="45.5" font-family="Liberation Sans, sans-serif" font-size="6.5" font-weight="normal" fill="#555" text-anchor="start" textLength="22.15" lengthAdjust="spacingAndGlyphs" stroke="#555" stroke-width="0.08">05/26/2023</text>
<text x="30.75" y="52.03" font-family="Liberation Sans, sans-serif" font-size="6.5" font-weight="normal" fill="#2a2a3a" text-anchor="start" textLength="40.05" lengthAdjust="spacingAndGlyphs" stroke="#2a2a3a" stroke-width="0.08">LE Q23 - HE Q23, D</text>
<text x="16" y="58.56" font-family="Liberation Sans, sans-serif" font-size="6.5" font-weight="normal" fill="#555" text-anchor="start" textLength="11.4" lengthAdjust="spacingAndGlyphs" stroke="#555" stroke-width="0.08">Close</text>
<text x="72.5" y="58.56" font-family="Liberation Sans, sans-serif" font-size="6.5" font-weight="normal" fill="#555" text-anchor="start" textLength="13.4" lengthAdjust="spacingAndGlyphs" stroke="#555" stroke-width="0.08">91.125</text>
<text x="21.8" y="65.09" font-family="Liberation Sans, sans-serif" font-size="6.5" font-weight="normal" fill="#222" text-anchor="start" textLength="58.2" lengthAdjust="spacingAndGlyphs" stroke="#222" stroke-width="0.16">Moving Average (E, 5, 0, C)</text>
<text x="16" y="71.62" font-family="Liberation Sans, sans-serif" font-size="6.5" font-weight="normal" fill="#a06848" text-anchor="start" textLength="30.8" lengthAdjust="spacingAndGlyphs" stroke="#a06848" stroke-width="0.08">Moving Average</text>
<text x="72.5" y="71.62" font-family="Liberation Sans, sans-serif" font-size="6.5" font-weight="normal" fill="#a06848" text-anchor="start" textLength="13.4" lengthAdjust="spacingAndGlyphs" stroke="#a06848" stroke-width="0.08">86.301</text>
<text x="21.8" y="78.15" font-family="Liberation Sans, sans-serif" font-size="6.5" font-weight="normal" fill="#222" text-anchor="start" textLength="58.4" lengthAdjust="spacingAndGlyphs" stroke="#222" stroke-width="0.16">Moving Average (E, 7, 0, C)</text>
<text x="16" y="84.68" font-family="Liberation Sans, sans-serif" font-size="6.5" font-weight="normal" fill="#e0364a" text-anchor="start" textLength="30.8" lengthAdjust="spacingAndGlyphs" stroke="#e0364a" stroke-width="0.08">Moving Average</text>
<text x="72.5" y="84.68" font-family="Liberation Sans, sans-serif" font-size="6.5" font-weight="normal" fill="#e0364a" text-anchor="start" textLength="13.4" lengthAdjust="spacingAndGlyphs" stroke="#e0364a" stroke-width="0.08">84.785</text>
<text x="20.3" y="91.21" font-family="Liberation Sans, sans-serif" font-size="6.5" font-weight="normal" fill="#222" text-anchor="start" textLength="61.6" lengthAdjust="spacingAndGlyphs" stroke="#222" stroke-width="0.16">Moving Average (E, 14, 0, C)</text>
<text x="16" y="97.74" font-family="Liberation Sans, sans-serif" font-size="6.5" font-weight="normal" fill="#34a034" text-anchor="start" textLength="30.8" lengthAdjust="spacingAndGlyphs" stroke="#34a034" stroke-width="0.08">Moving Average</text>
<text x="72.5" y="97.74" font-family="Liberation Sans, sans-serif" font-size="6.5" font-weight="normal" fill="#34a034" text-anchor="start" textLength="13.4" lengthAdjust="spacingAndGlyphs" stroke="#34a034" stroke-width="0.08">81.120</text>
<text x="20.3" y="104.27" font-family="Liberation Sans, sans-serif" font-size="6.5" font-weight="normal" fill="#222" text-anchor="start" textLength="61.6" lengthAdjust="spacingAndGlyphs" stroke="#222" stroke-width="0.16">Moving Average (E, 50, 0, C)</text>
<text x="16" y="110.8" font-family="Liberation Sans, sans-serif" font-size="6.5" font-weight="normal" fill="#3838ec" text-anchor="start" textLength="30.8" lengthAdjust="spacingAndGlyphs" stroke="#3838ec" stroke-width="0.08">Moving Average</text>
<text x="72.7" y="110.8" font-family="Liberation Sans, sans-serif" font-size="6.5" font-weight="normal" fill="#3838ec" text-anchor="start" textLength="13.2" lengthAdjust="spacingAndGlyphs" stroke="#3838ec" stroke-width="0.08">72.376</text>
<text x="19.1" y="117.33" font-family="Liberation Sans, sans-serif" font-size="6.5" font-weight="normal" fill="#222" text-anchor="start" textLength="63.7" lengthAdjust="spacingAndGlyphs" stroke="#222" stroke-width="0.16">Moving Average (E, 100, 0, C)</text>
<text x="16" y="123.86" font-family="Liberation Sans, sans-serif" font-size="6.5" font-weight="normal" fill="#f0a060" text-anchor="start" textLength="30.8" lengthAdjust="spacingAndGlyphs" stroke="#f0a060" stroke-width="0.08">Moving Average</text>
<text x="72.5" y="123.86" font-family="Liberation Sans, sans-serif" font-size="6.5" font-weight="normal" fill="#f0a060" text-anchor="start" textLength="13.4" lengthAdjust="spacingAndGlyphs" stroke="#f0a060" stroke-width="0.08">66.034</text>
<text x="19.4" y="130.39" font-family="Liberation Sans, sans-serif" font-size="6.5" font-weight="normal" fill="#222" text-anchor="start" textLength="63.4" lengthAdjust="spacingAndGlyphs" stroke="#222" stroke-width="0.16">Moving Average (E, 200, 0, C)</text>
<text x="16" y="136.92" font-family="Liberation Sans, sans-serif" font-size="6.5" font-weight="normal" fill="#a030f0" text-anchor="start" textLength="30.8" lengthAdjust="spacingAndGlyphs" stroke="#a030f0" stroke-width="0.08">Moving Average</text>
<text x="72.5" y="136.92" font-family="Liberation Sans, sans-serif" font-size="6.5" font-weight="normal" fill="#a030f0" text-anchor="start" textLength="13.4" lengthAdjust="spacingAndGlyphs" stroke="#a030f0" stroke-width="0.08">60.267</text>
<text x="17.9" y="143.45" font-family="Liberation Sans, sans-serif" font-size="6.5" font-weight="normal" fill="#222" text-anchor="start" textLength="66.4" lengthAdjust="spacingAndGlyphs" stroke="#222" stroke-width="0.16">Relative Strength Index (14, C)</text>
<text x="16" y="149.98" font-family="Liberation Sans, sans-serif" font-size="6.5" font-weight="normal" fill="#48a4ac" text-anchor="start" textLength="46.0" lengthAdjust="spacingAndGlyphs" stroke="#48a4ac" stroke-width="0.08">Relative Strength Index</text>
<text x="75" y="149.98" font-family="Liberation Sans, sans-serif" font-size="6.5" font-weight="normal" fill="#48a4ac" text-anchor="start" textLength="10.9" lengthAdjust="spacingAndGlyphs" stroke="#48a4ac" stroke-width="0.08">82.58</text>
<rect x="15" y="24.5" width="2.6" height="6" rx="1.3" fill="#3cb43c"/>
<rect x="19.4" y="24.7" width="3.2" height="5.8" rx="1.5" fill="none" stroke="#7a7a8a" stroke-width="0.7"/>
<text x="25.7" y="30.5" font-family="Liberation Sans, sans-serif" font-size="7.5" font-weight="normal" fill="#666" text-anchor="start" textLength="12.2" lengthAdjust="spacingAndGlyphs" >Chart</text>
<rect x="45" y="24.3" width="40" height="7.4" fill="#fff" stroke="#999" stroke-width="0.6"/>
<text x="46.5" y="30.3" font-family="Liberation Sans, sans-serif" font-size="6.2" font-weight="normal" fill="#333" text-anchor="start" textLength="25" lengthAdjust="spacingAndGlyphs" >LE Q23 - HE (</text>
<path d="M75,27 L76.7,28.8 L78.4,27" fill="none" stroke="#555" stroke-width="0.7"/>
<path d="M81,25.8 H84.5 M81,27.5 H84.5 M81,29.2 H84.5 M81,30.9 H84.5" stroke="#777" stroke-width="0.5"/>
<rect x="88.3" y="24.3" width="41" height="7.4" fill="#fff" stroke="#999" stroke-width="0.6"/>
<text x="90" y="30.3" font-family="Liberation Sans, sans-serif" font-size="6.2" font-weight="normal" fill="#333" text-anchor="start" >D</text>
<path d="M118.5,27 L120.2,28.8 L121.9,27" fill="none" stroke="#555" stroke-width="0.7"/>
<circle cx="126" cy="28" r="2" fill="none" stroke="#888" stroke-width="0.6"/>
<path d="M134.6,31.6 L135.1,29.6 L139.6,25.1 L141.1,26.6 L136.6,31.1 Z M138.8,25.9 L140.3,27.4" fill="none" stroke="#666" stroke-width="0.8" stroke-linejoin="round"/>
<ellipse cx="149" cy="28.1" rx="3.3" ry="3.6" fill="none" stroke="#777" stroke-width="0.75"/>
<ellipse cx="161" cy="28.1" rx="3.3" ry="3.6" fill="none" stroke="#777" stroke-width="0.75"/>
<text x="161" y="30.0" font-family="Liberation Sans, sans-serif" font-size="5.0" font-weight="normal" fill="#666" text-anchor="middle" stroke="#666" stroke-width="0.15">B</text>
<ellipse cx="172.8" cy="28.1" rx="3.3" ry="3.6" fill="none" stroke="#777" stroke-width="0.75"/>
<text x="172.8" y="30.0" font-family="Liberation Sans, sans-serif" font-size="5.0" font-weight="normal" fill="#666" text-anchor="middle" stroke="#666" stroke-width="0.15">T</text>
<ellipse cx="184.5" cy="28.1" rx="3.3" ry="3.6" fill="none" stroke="#777" stroke-width="0.75"/>
<text x="184.5" y="30.0" font-family="Liberation Sans, sans-serif" font-size="5.0" font-weight="normal" fill="#666" text-anchor="middle" stroke="#666" stroke-width="0.15">A</text>
<path d="M147.2,29 L148.3,27.3 L149.4,28.6 L150.7,26.8" fill="none" stroke="#666" stroke-width="0.7"/>
<g fill="none" stroke="#666" stroke-width="0.8"><rect x="192.8" y="27.6" width="3.8" height="2.2" rx="1" transform="rotate(-45 194.7 28.7)"/><rect x="195.9" y="24.6" width="3.8" height="2.2" rx="1" transform="rotate(-45 197.8 25.7)"/><path d="M195.4,28 L197.1,26.3"/></g>
<g fill="none" stroke="#666" stroke-width="0.8" stroke-linejoin="round"><path d="M208.2,25 H205.6 Q204.6,25 204.6,26 V30.7 Q204.6,31.6 205.6,31.6 H209.6 Q210.5,31.6 210.5,30.7 V29.2"/><path d="M207.3,30.3 L207.6,29 L210.9,25.7 L212,26.8 L208.7,30.1 Z"/></g>
<path d="M216.3,25 H222.6 V30.2 H221.7 V31.7 L220.1,30.2 H216.3 Z" fill="none" stroke="#666" stroke-width="0.8" stroke-linejoin="round"/>
<text x="541.7" y="30.5" font-family="Liberation Sans, sans-serif" font-size="6.5" font-weight="normal" fill="#888" text-anchor="middle" >?</text>
<rect x="550" y="25.2" width="4.6" height="5" fill="none" stroke="#888" stroke-width="0.8"/><rect x="552.6" y="28.3" width="2.2" height="2" fill="#888"/>
<line x1="560.5" y1="31" x2="565" y2="31" stroke="#888" stroke-width="0.9"/>
<rect x="570.5" y="25.2" width="4.8" height="5.3" fill="none" stroke="#888" stroke-width="0.8"/><line x1="570.5" y1="26.3" x2="575.3" y2="26.3" stroke="#888" stroke-width="0.8"/>
<path d="M580.8,25.3 L585.3,30.8 M585.3,25.3 L580.8,30.8" stroke="#888" stroke-width="0.8"/>
</svg>
</body></html>
